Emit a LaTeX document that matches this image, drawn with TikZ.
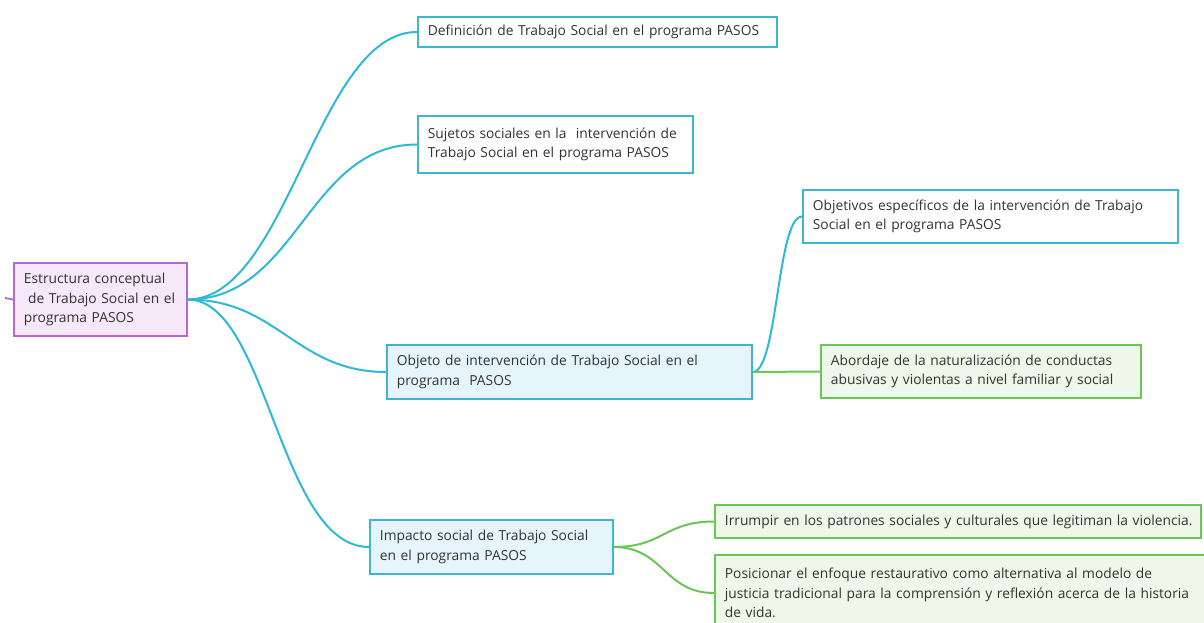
\documentclass[tikz,border=0pt]{standalone}
\usepackage{fontspec}
\setmainfont{Open Sans}
\definecolor{cyanline}{HTML}{2FB9D9}
\definecolor{cyanedge}{HTML}{3DB5D3}
\definecolor{bluefill}{HTML}{E6F5FB}
\definecolor{purpedge}{HTML}{B866D6}
\definecolor{purpfill}{HTML}{F5E9F9}
\definecolor{greenedge}{HTML}{6CC653}
\definecolor{greenfill}{HTML}{EEF8EA}
\definecolor{txt}{HTML}{333333}
% a line that must never be broken inside its box
\newcommand{\keepline}[1]{\mbox{#1}}
\tikzset{
  topic/.style={rectangle, draw, line width=1.8pt, anchor=west, align=left,
    inner xsep=10pt, inner ysep=0pt, text=txt,
    font=\fontsize{13.8}{19.5}\selectfont},
  rootbox/.style={topic, draw=purpedge, fill=purpfill},
  bluebox/.style={topic, draw=cyanedge, fill=bluefill},
  plainbox/.style={topic, draw=cyanedge, fill=white},
  greenbox/.style={topic, draw=greenedge, fill=greenfill},
  cyanlink/.style={draw=cyanline, line width=2pt},
  greenlink/.style={draw=greenedge, line width=2pt},
}
\begin{document}
\begin{tikzpicture}[x=1pt, y=-1pt]
\useasboundingbox (0,0) rectangle (1204,623);
\fill[white] (0,0) rectangle (1204,623);

% central topic
\node[rootbox, minimum width=173pt, minimum height=73pt, text width=153pt]
  (root) at (13,299.5) {\keepline{Estructura conceptual}\\\keepline{\hspace{0.3em}de Trabajo Social en el}\\\keepline{programa PASOS}};
\coordinate (stub) at (5,298);

% first level
\node[plainbox, minimum width=359pt, minimum height=30pt, text width=339pt]
  (def) at (417,32) {\keepline{Definición de Trabajo Social en el programa PASOS}};
\node[plainbox, minimum width=275pt, minimum height=57pt, text width=255pt]
  (suj) at (417,144.5) {\keepline{Sujetos sociales en la\ \ intervención de}\\\keepline{Trabajo Social en el programa PASOS}};
\node[bluebox, minimum width=365pt, minimum height=54pt, text width=345pt]
  (obj) at (386,372) {\keepline{Objeto de intervención de Trabajo Social en el}\\\keepline{programa\ \ PASOS}};
\node[bluebox, minimum width=243pt, minimum height=54pt, text width=223pt]
  (imp) at (369,547) {\keepline{Impacto social de Trabajo Social}\\\keepline{en el programa PASOS}};

% second level
\node[plainbox, minimum width=375pt, minimum height=53pt, text width=355pt]
  (objesp) at (802,216.5) {\keepline{Objetivos específicos de la intervención de Trabajo}\\\keepline{Social en el programa PASOS}};
\node[greenbox, minimum width=320pt, minimum height=53pt, text width=300pt]
  (abor) at (820,371.5) {\keepline{Abordaje de la naturalización de conductas}\\\keepline{abusivas y violentas a nivel familiar y social}};
\node[greenbox, minimum width=486pt, minimum height=33pt, text width=466pt]
  (irr) at (714,521.5) {\keepline{Irrumpir en los patrones sociales y culturales que legitiman la violencia.}};
\node[greenbox, minimum width=500pt, minimum height=76pt, text width=480pt]
  (pos) at (714,593) {\keepline{Posicionar el enfoque restaurativo como alternativa al modelo de}\\\keepline{justicia tradicional para la comprensión y reflexión acerca de la historia}\\\keepline{de vida.}};

% connectors
\draw[draw=purpedge, line width=1.8pt] (stub) -- (root.west);
\draw[cyanlink] (root.east) .. controls +(100,0) and +(-100,0) .. (def.west);
\draw[cyanlink] (root.east) .. controls +(110,0) and +(-110,0) .. (suj.west);
\draw[cyanlink] (root.east) .. controls +(90,0) and +(-90,0) .. (obj.west);
\draw[cyanlink] (root.east) .. controls +(80,0) and +(-90,0) .. (imp.west);
\draw[cyanlink] (obj.east) .. controls +(25,0) and +(-25,0) .. (objesp.west);
\draw[greenlink] (obj.east) -- (abor.west);
\draw[greenlink] (imp.east) .. controls +(50,0) and +(-50,0) .. (irr.west);
\draw[greenlink] (imp.east) .. controls +(50,0) and +(-50,0) .. (pos.west);
\end{tikzpicture}
\end{document}
